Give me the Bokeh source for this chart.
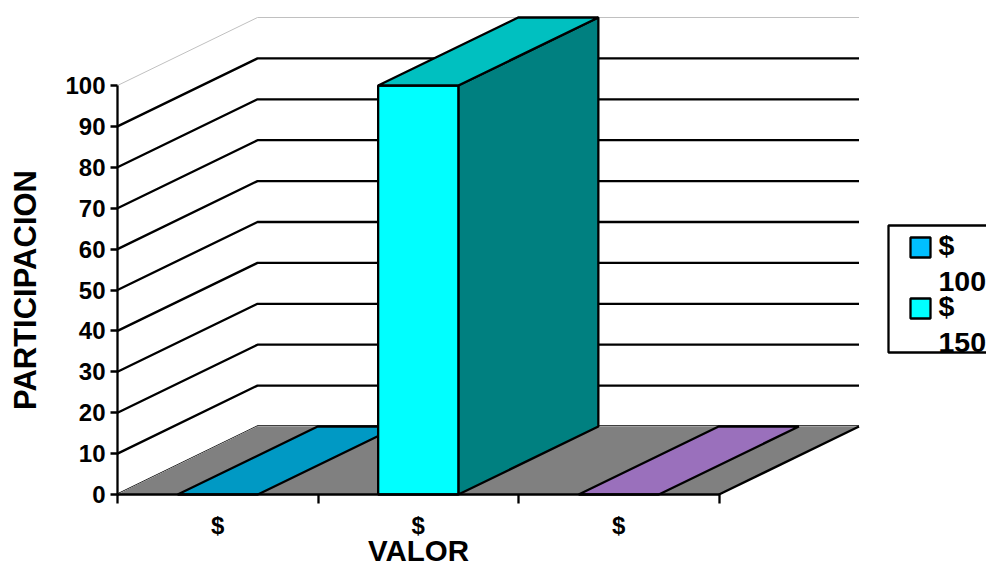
from bokeh.plotting import figure
from bokeh.models import LinearAxis, FixedTicker, Range1d
from bokeh.core.properties import value
from bokeh.embed import file_html
from bokeh.resources import INLINE

# ---- data
categories = ["$", "$", "$"]
series_names = ["$ 100", "$ 150", "$ 200"]
series_values = [0, 100, 0]
y_ticks = [0, 10, 20, 30, 40, 50, 60, 70, 80, 90, 100]
front_colors = ["#00BFFF", "#00FFFF", "#BF8FFF"]
top_colors = ["#0099C4", "#00C0C0", "#9A70BC"]
side_colors = ["#006080", "#008080", "#604880"]

W, H = 986, 566
X0, Y0 = 117.0, 494.0      # canvas px of the origin
SX, SY = 200.5, 4.09       # px per category, px per value unit
DX, DY = 140 / SX, 68 / SY # depth of the 3D box in data units
BAR_L, BAR_R = 0.3, 0.7
LW = 2.3

FONT = "Liberation Sans"

p = figure(width=W, height=H, output_backend="svg", toolbar_location=None,
           x_range=Range1d(-X0 / SX, (W - X0) / SX),
           y_range=Range1d(-(H - Y0) / SY, Y0 / SY),
           min_border=0, x_axis_type=None, y_axis_type=None)
p.outline_line_color = None
p.background_fill_color = "white"
p.border_fill_color = "white"

n = len(categories)

# back wall + side wall gridlines
for t in y_ticks:
    top = t == y_ticks[-1]
    col = "#C0C0C0" if top else "black"
    lw = 1 if top else LW
    p.line([0, DX, n + DX], [t, t + DY, t + DY], line_color=col, line_width=lw)
# pale edge of the floor
p.line([0, DX, n + DX], [0, DY, DY], line_color="#C0C0C0", line_width=1)

# floor
p.patch([0, n, n + DX, DX], [0, 0, DY, DY], fill_color="#808080", line_color=None)
p.line([n, n + DX], [0, DY], line_color="black", line_width=LW)

# bars
for i, v in enumerate(series_values):
    l, r = i + BAR_L, i + BAR_R
    if v > 0:
        p.patch([r, r + DX, r + DX, r], [0, DY, v + DY, v],
                fill_color=side_colors[i], line_color="black", line_width=LW)
        p.patch([l, r, r, l], [0, 0, v, v],
                fill_color=front_colors[i], line_color="black", line_width=LW)
    p.patch([l, r, r + DX, l + DX], [v, v, v + DY, v + DY],
            fill_color=top_colors[i], line_color="black", line_width=LW)

# axes
ya = LinearAxis(fixed_location=0, ticker=FixedTicker(ticks=y_ticks), bounds=(0, 100),
                axis_label="PARTICIPACION", axis_label_text_font=FONT,
                axis_label_text_font_size="31px", axis_label_text_font_style="bold",
                axis_label_text_color="black", axis_label_standoff=19,
                major_label_text_font=FONT, major_label_text_font_size="24px",
                major_label_text_font_style="bold", major_label_text_color="black",
                major_label_standoff=5, major_tick_in=0, major_tick_out=7,
                minor_tick_in=0, minor_tick_out=0,
                axis_line_width=LW, major_tick_line_width=LW, axis_line_color="black")
p.add_layout(ya, "left")

xa = LinearAxis(fixed_location=0,
                ticker=FixedTicker(ticks=[i + 0.5 for i in range(n)], minor_ticks=list(range(n + 1))),
                bounds=(0, n),
                major_label_overrides={i + 0.5: c for i, c in enumerate(categories)},
                axis_label="VALOR", axis_label_text_font=FONT,
                axis_label_text_font_size="29.5px", axis_label_text_font_style="bold",
                axis_label_text_color="black", axis_label_standoff=-8,
                major_label_text_font=FONT, major_label_text_font_size="24px",
                major_label_text_font_style="bold", major_label_text_color="black",
                major_label_standoff=8, major_tick_in=0, major_tick_out=0,
                minor_tick_in=0, minor_tick_out=9, minor_tick_line_width=LW, minor_tick_line_color="black",
                axis_line_width=LW, axis_line_color="black")
p.add_layout(xa, "below")


def dx(px):
    return (px - X0) / SX


def dy(py):
    return (Y0 - py) / SY


# legend
LEFT, TOP, BOTTOM, RIGHT = 888, 225, 352, 986
p.quad(left=[dx(LEFT)], right=[dx(RIGHT)], top=[dy(TOP)], bottom=[dy(BOTTOM)],
       fill_color="white", line_color=None)
for i, name in enumerate(series_names[:2]):
    sym, amount = name.split(" ")
    base = 255 + i * 61
    p.quad(left=[dx(910)], right=[dx(930)], top=[dy(base - 18)], bottom=[dy(base + 2)],
           fill_color=front_colors[i], line_color="black", line_width=LW)
    p.text([dx(938)], [dy(base - 11)], text=[sym], text_font=value(FONT), text_font_size="28.5px",
           text_font_style="bold", text_color="black", text_baseline="alphabetic")
    p.text([dx(938)], [dy(base + 26)], text=[amount], text_font=value(FONT), text_font_size="28.5px",
           text_font_style="bold", text_color="black", text_baseline="alphabetic")
# the box cuts its last line off
p.quad(left=[dx(LEFT)], right=[dx(RIGHT)], top=[dy(BOTTOM)], bottom=[dy(BOTTOM + 12)],
       fill_color="white", line_color=None)
p.line([dx(RIGHT), dx(LEFT), dx(LEFT), dx(RIGHT)],
       [dy(TOP), dy(TOP), dy(BOTTOM), dy(BOTTOM)], line_color="black", line_width=LW)

open("out.html", "w").write(file_html(p, INLINE))
